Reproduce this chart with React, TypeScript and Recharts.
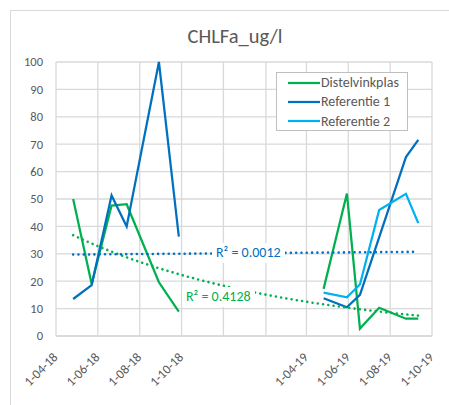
import React from "react";
import { ComposedChart, Line, XAxis, YAxis, CartesianGrid, Legend } from "recharts";

// ---- data -------------------------------------------------------------
const sampleDates2018 = ["2018-04-26", "2018-05-23", "2018-06-21", "2018-07-13", "2018-08-29", "2018-09-27"];
const sampleDates2019 = ["2019-04-26", "2019-05-30", "2019-06-18", "2019-07-16", "2019-08-24", "2019-09-11"];

const distelvinkplas2018 = [50, 19, 47.6, 48.1, 19.6, 8.9];
const distelvinkplas2019 = [17.2, 52, 2.7, 10.3, 6.3, 6.3];
const referentie1_2018 = [13.5, 18.6, 51.3, 40, 100, 36.3];
const referentie1_2019 = [13.8, 10.5, 15, null, 65.3, 71.6];
const referentie2_2019 = [15.8, 14.1, 18.8, 46, 51.9, 41.2];

const seriesNames = ["Distelvinkplas", "Referentie 1", "Referentie 2"];
const seriesColors = ["#00B050", "#0070C0", "#00B0F0"];

const tickDates = [
  "2018-04-01", "2018-06-01", "2018-08-01", "2018-10-01", "2018-12-01",
  "2019-02-01", "2019-04-01", "2019-06-01", "2019-08-01", "2019-10-01",
];
const tickLabels = ["1-04-18", "1-06-18", "1-08-18", "1-10-18", "", "", "1-04-19", "1-06-19", "1-08-19", "1-10-19"];
const yTicks = [0, 10, 20, 30, 40, 50, 60, 70, 80, 90, 100];

const chartTitle = "CHLFa_ug/l";
const trendLabelGreen = "R² = 0.4128";
const trendLabelBlue = "R² = 0.0012";

// ---- helpers ----------------------------------------------------------
const DAY_MS = 86400000;
const toDay = (iso: string) => Math.round(Date.parse(iso + "T00:00:00Z") / DAY_MS);

type Pt = { x: number; y: number | null };

function buildSeries(first: (number | null)[] | null, second: (number | null)[] | null): Pt[] {
  const pts: Pt[] = [];
  if (first) first.forEach((v, i) => { if (v != null) pts.push({ x: toDay(sampleDates2018[i]), y: v }); });
  if (first && second) pts.push({ x: toDay("2019-01-01"), y: null }); // break between the two seasons
  if (second) second.forEach((v, i) => { if (v != null) pts.push({ x: toDay(sampleDates2019[i]), y: v }); });
  return pts;
}

// Exponential trendline y = a * e^(b x), fitted by least squares on ln(y)
function expTrend(pts: Pt[], step = 4): Pt[] {
  const v = pts.filter((p) => p.y != null && (p.y as number) > 0) as { x: number; y: number }[];
  const n = v.length;
  const mx = v.reduce((s, p) => s + p.x, 0) / n;
  const my = v.reduce((s, p) => s + Math.log(p.y), 0) / n;
  let sxx = 0, sxy = 0;
  v.forEach((p) => { sxx += (p.x - mx) ** 2; sxy += (p.x - mx) * (Math.log(p.y) - my); });
  const b = sxy / sxx;
  const x0 = v[0].x, x1 = v[n - 1].x;
  const out: Pt[] = [];
  for (let x = x0; x < x1; x += step) out.push({ x, y: Math.exp(my + b * (x - mx)) });
  out.push({ x: x1, y: Math.exp(my + b * (x1 - mx)) });
  return out;
}

const distelData = buildSeries(distelvinkplas2018, distelvinkplas2019);
const ref1Data = buildSeries(referentie1_2018, referentie1_2019);
const ref2Data = buildSeries(null, referentie2_2019);
const distelTrend = expTrend(distelData);
const ref1Trend = expTrend(ref1Data);

const tickDays = tickDates.map(toDay);
const FONT = "Carlito, Calibri, Lato, sans-serif";
const GREY_TEXT = "#595959";

const XTick = (props: any) => {
  const { x, y, payload } = props;
  const idx = tickDays.indexOf(payload.value);
  const label = idx >= 0 ? tickLabels[idx] : "";
  return (
    <text
      transform={`translate(${x + 2.5},${y + 22}) rotate(-45)`}
      textAnchor="end"
      fill={GREY_TEXT}
      fontSize={13}
      fontFamily={FONT}
    >
      {label}
    </text>
  );
};

const LegendBox = (props: any) => {
  const items = (props.payload || []).filter((p: any) => seriesNames.includes(p.value));
  return (
    <div
      style={{
        width: 132,
        height: 59,
        border: "1px solid #BFBFBF",
        background: "#fff",
        boxSizing: "border-box",
        fontFamily: FONT,
        fontSize: 14,
        color: GREY_TEXT,
        paddingTop: 0,
      }}
    >
      {items.map((it: any) => (
        <div key={it.value} style={{ display: "flex", alignItems: "center", height: 19.3 }}>
          <svg width={44} height={6} style={{ flex: "none" }}>
            <line x1={11} y1={3} x2={43} y2={3} stroke={it.color} strokeWidth={2.25} />
          </svg>
          <span style={{ lineHeight: "19px", whiteSpace: "nowrap" }}>{it.value}</span>
        </div>
      ))}
    </div>
  );
};

const trendLabelStyle = (left: number, top: number, color: string): React.CSSProperties => ({
  position: "absolute",
  left,
  top,
  height: 20,
  padding: "0 4px",
  background: "#fff",
  color,
  fontFamily: FONT,
  fontSize: 14,
  lineHeight: "20px",
  whiteSpace: "nowrap",
});

export default function App() {
  return (
    <div
      style={{
        position: "absolute",
        left: 0,
        top: 0,
        width: 449,
        height: 405,
        overflow: "hidden",
        background: "#fff",
      }}
    >
      <div
        style={{
          position: "absolute",
          left: 10,
          top: 10,
          width: 470,
          height: 430,
          border: "1px solid #D9D9D9",
        }}
      />
      <div
        style={{
          position: "absolute",
          left: 10,
          width: 450,
          top: 21,
          textAlign: "center",
          fontFamily: FONT,
          fontSize: 20.5,
          lineHeight: "30px",
          color: GREY_TEXT,
        }}
      >
        {chartTitle}
      </div>
      <div style={{ position: "absolute", left: 0, top: 0 }}>
        <ComposedChart width={449} height={405} margin={{ top: 62, right: 17, bottom: 19, left: 10 }}>
          <CartesianGrid stroke="#D9D9D9" strokeWidth={1.3} />
          <XAxis
            type="number"
            dataKey="x"
            domain={[tickDays[0], tickDays[tickDays.length - 1]]}
            ticks={tickDays}
            interval={0}
            allowDataOverflow
            height={50}
            axisLine={{ stroke: "#D9D9D9", strokeWidth: 1.3 }}
            tickLine={false}
            tickSize={0}
            tickMargin={0}
            tick={<XTick />}
          />
          <YAxis
            type="number"
            domain={[0, 100]}
            ticks={yTicks}
            interval={0}
            width={46}
            axisLine={false}
            tickLine={false}
            tickSize={6}
            tickMargin={7}
            tick={{ fill: GREY_TEXT, fontSize: 12.5, fontFamily: FONT }}
          />
          <Legend
            layout="vertical"
            align="center"
            verticalAlign="middle"
            wrapperStyle={{ position: "absolute", left: 276, top: 72, width: 132 }}
            content={<LegendBox />}
          />
          <Line data={distelData} dataKey="y" name={seriesNames[0]} stroke={seriesColors[0]} strokeWidth={2.25}
            dot={false} activeDot={false} isAnimationActive={false} connectNulls={false} />
          <Line data={ref1Data} dataKey="y" name={seriesNames[1]} stroke={seriesColors[1]} strokeWidth={2.25}
            dot={false} activeDot={false} isAnimationActive={false} connectNulls={false} />
          <Line data={ref2Data} dataKey="y" name={seriesNames[2]} stroke={seriesColors[2]} strokeWidth={2.25}
            dot={false} activeDot={false} isAnimationActive={false} connectNulls={false} />
          <Line data={distelTrend} dataKey="y" name="Trend Distelvinkplas" legendType="none" stroke={seriesColors[0]}
            strokeWidth={2.6} strokeDasharray="0.01 5.3" strokeLinecap="round" dot={false} activeDot={false}
            isAnimationActive={false} />
          <Line data={ref1Trend} dataKey="y" name="Trend Referentie 1" legendType="none" stroke={seriesColors[1]}
            strokeWidth={2.6} strokeDasharray="0.01 5.3" strokeLinecap="round" dot={false} activeDot={false}
            isAnimationActive={false} />
        </ComposedChart>
      </div>
      <div style={trendLabelStyle(212, 243, seriesColors[1])}>{trendLabelBlue}</div>
      <div style={trendLabelStyle(182, 287, seriesColors[0])}>{trendLabelGreen}</div>
    </div>
  );
}
